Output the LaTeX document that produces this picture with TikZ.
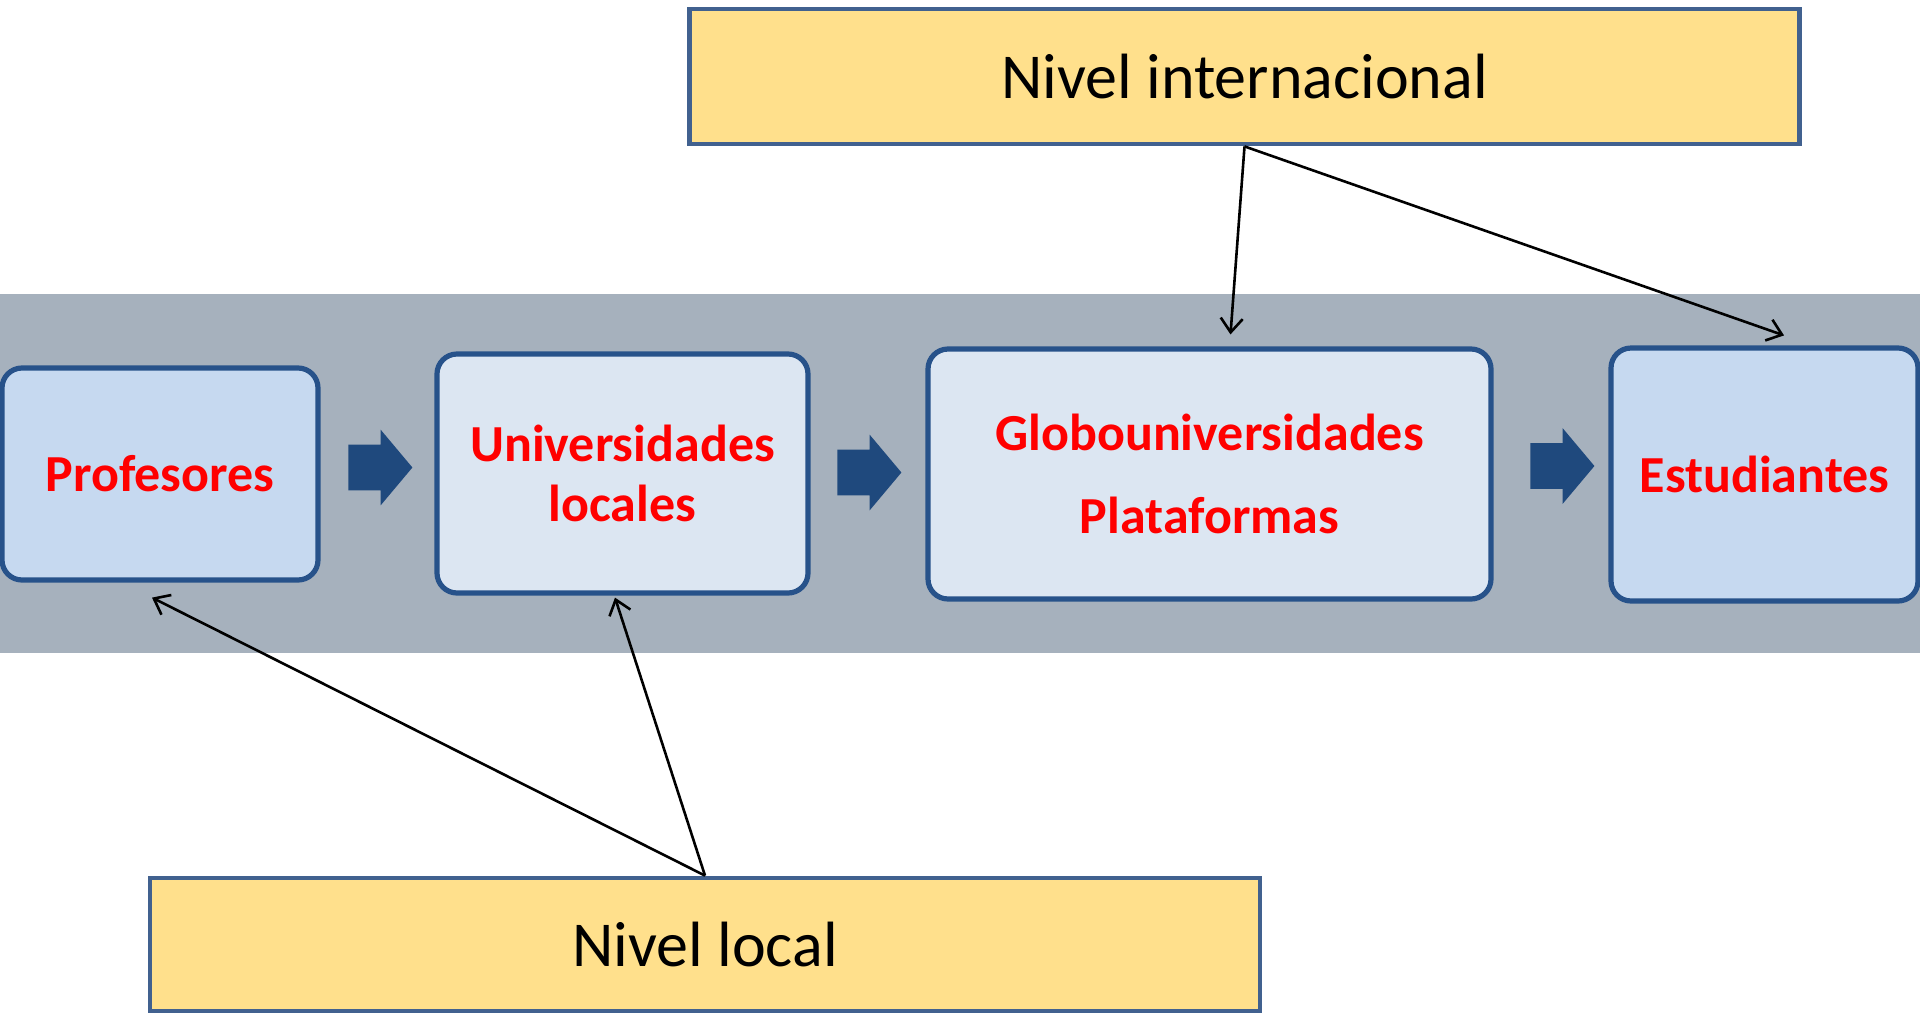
\documentclass[tikz,border=0pt]{standalone}
\usepackage{fontspec}
\setmainfont{Carlito}
\usepackage{tikz}
\usetikzlibrary{arrows.meta, positioning, shapes.arrows}
\definecolor{bandgray}{HTML}{A6B1BD}
\definecolor{boxline}{HTML}{27528A}
\definecolor{lightfill}{HTML}{C6D9F0}
\definecolor{palefill}{HTML}{DCE6F2}
\definecolor{levelfill}{HTML}{FFE08C}
\definecolor{levelline}{HTML}{41618F}
\definecolor{blockblue}{HTML}{1F497D}
\definecolor{labelred}{HTML}{FF0000}

\begin{document}
\begin{tikzpicture}[x=0.5pt, y=-0.5pt,
    actor/.style={draw=boxline, line width=2.6pt, rounded corners=10pt, align=center,
      text=labelred, font=\bfseries\fontsize{26}{30}\selectfont, inner sep=0pt},
    level/.style={draw=levelline, line width=2.4pt, fill=levelfill, inner sep=0pt,
      minimum width=555pt, font=\fontsize{32}{38}\selectfont},
    flow/.style={single arrow, fill=blockblue, inner xsep=0pt, inner ysep=11.25pt,
      minimum height=32pt, single arrow head extend=7.5pt, single arrow tip angle=100,
      anchor=west},
    link/.style={-{Straight Barb[length=7pt, width=11pt]}, line width=1.3pt}]

    \useasboundingbox (0,0) rectangle (1920,1013);

    % Draw the gray band
    \fill[bandgray] (0,294) rectangle (1920,653);

    % Actor boxes
    \node[actor, fill=lightfill, minimum width=158pt, minimum height=106pt] (prof) at (160,474) {Profesores};
    \node[actor, fill=palefill, minimum width=185.5pt, minimum height=119.5pt] (univ) at (622.5,473.5) {Universidades\\locales};
    \node[actor, fill=palefill, minimum width=281.5pt, minimum height=125pt,
      font=\bfseries\fontsize{26}{41.5}\selectfont] (globo) at (1209.5,474) {Globouniversidades\\Plataformas};
    \node[actor, fill=lightfill, minimum width=153.5pt, minimum height=126.5pt] (estud) at (1764.5,474.5) {Estudiantes};

    % Block arrows between the boxes
    \node[flow] (f1) at (348,467.5) {};
    \node[flow] (f2) at (837,472.5) {};
    \node[flow] (f3) at (1530,466) {};

    % Level boxes
    \node[level, minimum height=67.5pt] (intl) at (1244.5,76.5) {Nivel internacional};
    \node[level, minimum height=66.5pt] (local) at (705,944.5) {Nivel local};

    % Draw links
    \draw[link] (intl.south) -- ([shift={(21,-12)}]globo.north);
    \draw[link] (intl.south) -- ([shift={(19.5,-10)}]estud.north);
    \draw[link] (local.north) -- ([shift={(-8,15)}]prof.south);
    \draw[link] (local.north) -- ([shift={(-7.5,2)}]univ.south);
\end{tikzpicture}
\end{document}
